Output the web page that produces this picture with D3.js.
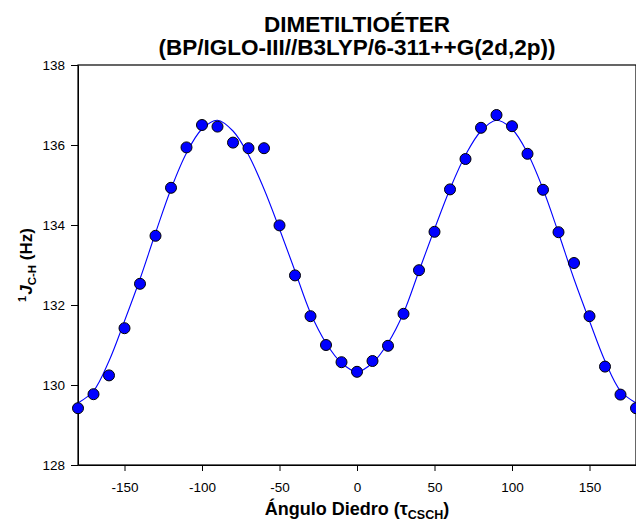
<!DOCTYPE html>
<html><head><meta charset="utf-8">
<script src="https://cdn.jsdelivr.net/npm/d3@7"></script>
<style>body{margin:0;background:#fff}svg{display:block}text{font-family:Arial,"Liberation Sans",sans-serif}</style>
</head><body>
<svg id="c" width="636" height="522"></svg>
<script>
// ---- data ----
const angles = [-180,-170,-160,-150,-140,-130,-120,-110,-100,-90,-80,-70,-60,-50,-40,-30,-20,-10,0,10,20,30,40,50,60,70,80,90,100,110,120,130,140,150,160,170,180];
const jValues = [129.42,129.77,130.24,131.42,132.53,133.73,134.93,135.94,136.50,136.46,136.06,135.92,135.92,133.99,132.74,131.72,131.00,130.57,130.33,130.60,130.98,131.78,132.87,133.83,134.89,135.65,136.43,136.75,136.47,135.78,134.88,133.82,133.05,131.72,130.46,129.76,129.42];
const fitAngles = [-180,-170,-160,-150,-140,-130,-120,-110,-100,-90,-80,-70,-60,-50,-40,-30,-20,-10,0,10,20,30,40,50,60,70,80,90,100,110,120,130,140,150,160,170,180];
const fitValues = [129.55,129.85,130.60,131.60,132.65,133.80,134.90,135.80,136.40,136.62,136.35,135.75,134.90,133.90,132.85,131.80,131.05,130.55,130.33,130.55,131.05,131.80,132.85,133.90,134.90,135.75,136.35,136.62,136.40,135.80,134.90,133.80,132.65,131.60,130.60,129.85,129.55];
const xTicks = [-150,-100,-50,0,50,100,150];
const yTicks = [128,130,132,134,136,138];
const titleLines = ["DIMETILTIOÉTER","(BP/IGLO-III//B3LYP/6-311++G(2d,2p))"];

// ---- layout ----
const svg = d3.select("#c");
const L = 78, R = 636, T = 65, B = 465;
const x = d3.scaleLinear().domain([-180,180]).range([L,R]);
const y = d3.scaleLinear().domain([128,138]).range([B,T]);
const fmt = d => String(d);

// frame
svg.append("rect").attr("x",L).attr("y",T).attr("width",R-L).attr("height",B-T)
  .attr("fill","none").attr("stroke","#000").attr("stroke-width",1.2);

// axes
const ya = svg.append("g").attr("transform",`translate(${L},0)`)
  .call(d3.axisLeft(y).tickValues(yTicks).tickSize(7).tickSizeOuter(0).tickPadding(6).tickFormat(fmt));
const xa = svg.append("g").attr("transform",`translate(0,${B})`)
  .call(d3.axisBottom(x).tickValues(xTicks).tickSize(6).tickSizeOuter(0).tickPadding(11).tickFormat(fmt));
[ya,xa].forEach(g=>{
  g.selectAll("text").attr("font-size",13.5).attr("fill","#000").attr("font-family","Arial, 'Liberation Sans', sans-serif");
  g.selectAll("line,path").attr("stroke","#000");
});

// fit curve
const line = d3.line().x((d,i)=>x(fitAngles[i])).y(d=>y(d)).curve(d3.curveCatmullRom.alpha(0.5));
svg.append("path").datum(fitValues).attr("d",line).attr("fill","none").attr("stroke","#0000ff").attr("stroke-width",1.1);

// points
svg.append("g").selectAll("circle").data(jValues).join("circle")
  .attr("cx",(d,i)=>x(angles[i])).attr("cy",d=>y(d)).attr("r",5.5)
  .attr("fill","#0000ff").attr("stroke","#000").attr("stroke-width",1);

// title
const cx = (L+R)/2;
svg.append("text").attr("x",cx).attr("y",32).attr("text-anchor","middle").attr("font-size",22.5).attr("font-weight","bold").text(titleLines[0]);
svg.append("text").attr("x",cx).attr("y",55).attr("text-anchor","middle").attr("font-size",22.5).attr("font-weight","bold").text(titleLines[1]);

// x label
const xl = svg.append("text").attr("x",cx).attr("y",515).attr("text-anchor","middle").attr("font-size",18).attr("font-weight","bold");
xl.append("tspan").text("Ángulo Diedro (τ");
xl.append("tspan").attr("font-size",12.5).attr("dy",4).text("CSCH");
xl.append("tspan").attr("dy",-4).text(")");

// y label
const yl = svg.append("text").attr("transform",`translate(32,${(T+B)/2}) rotate(-90)`).attr("text-anchor","middle").attr("font-size",17).attr("font-weight","bold");
yl.append("tspan").attr("font-size",11).attr("dy",-6).text("1");
yl.append("tspan").attr("dy",6).attr("dx",1).attr("font-style","italic").text("J");
yl.append("tspan").attr("font-size",11.5).attr("dy",4).text("C-H");
yl.append("tspan").attr("dy",-4).text(" (Hz)");
</script>
</body></html>
